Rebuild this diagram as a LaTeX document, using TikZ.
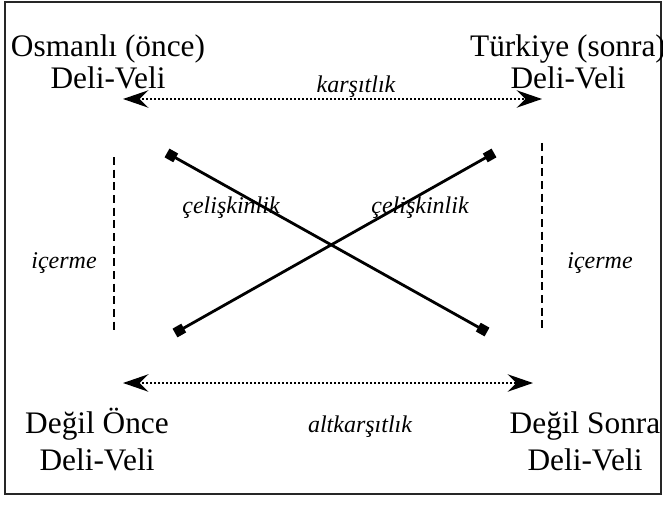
\documentclass[tikz,border=0pt]{standalone}
\usepackage{fontspec}
\setmainfont{Liberation Serif}
\usepackage{tikz}
\usetikzlibrary{positioning, arrows.meta}

\begin{document}
\begin{tikzpicture}[x=0.75pt, y=-0.75pt,
    kose/.style={align=center, inner sep=0pt, anchor=base},
    etiket/.style={inner sep=0pt, anchor=base, font=\fontsize{18}{20}\selectfont\itshape},
    karsi/.style={line width=2pt, dash pattern=on 1.5pt off 1.5pt,
        {Stealth[length=19pt,width=13pt,inset=6.5pt]}-{Stealth[length=19pt,width=13pt,inset=6.5pt]}},
    celiski/.style={line width=2.1pt, {Square[length=7.5pt,width=7.5pt]}-{Square[length=7.5pt,width=7.5pt]}},
    icerme/.style={line width=1.4pt, dash pattern=on 6pt off 3.5pt}]
        \useasboundingbox (0,0) rectangle (663,506);
        % Frame
        \draw[line width=1.4pt, black!85] (5,2) rectangle (661,494);

        % Corner texts
        \node[kose, font=\fontsize{23.5}{24}\selectfont] (osmanli) at (108,89) {Osmanlı (önce)\\Deli-Veli};
        \node[kose, font=\fontsize{23.5}{24}\selectfont] (turkiye) at (568,89) {Türkiye (sonra)\\Deli-Veli};
        \node[kose, font=\fontsize{23.5}{27.75}\selectfont] (degilonce) at (97,470) {Değil Önce\\Deli-Veli};
        \node[kose, font=\fontsize{23.5}{27.75}\selectfont] (degilsonra) at (585,470) {Değil Sonra\\Deli-Veli};

        % Arrow end points
        \coordinate (kl) at (123,99);
        \coordinate (kr) at (542,99);
        \coordinate (al) at (123,383);
        \coordinate (ar) at (533,383);

        % Contrariety (top) and subcontrariety (bottom)
        \draw[karsi] (kl) -- (kr);
        \node[etiket] (karsitlik) at (356,93) {karşıtlık};
        \draw[karsi] (al) -- (ar);
        \node[etiket] (altkarsitlik) at (360,432) {altkarşıtlık};

        % Contradiction diagonals
        \coordinate (sol1) at (167,153);
        \coordinate (sag2) at (487,332);
        \coordinate (sol2) at (175,333);
        \coordinate (sag1) at (494,153);
        \draw[celiski] (sol1) -- (sag2);
        \draw[celiski] (sol2) -- (sag1);
        \node[etiket] (celiskisol) at (231,213) {çelişkinlik};
        \node[etiket] (celiskisag) at (420,213) {çelişkinlik};

        % Implication (dashed sides)
        \coordinate (ust1) at (114,157);
        \coordinate (alt1) at (114,332);
        \coordinate (ust2) at (542,143);
        \coordinate (alt2) at (542,332);
        \draw[icerme] (ust1) -- (alt1);
        \draw[icerme] (ust2) -- (alt2);
        \node[etiket] (icermesol) at (64,268) {içerme};
        \node[etiket] (icermesag) at (600,268) {içerme};
    \end{tikzpicture}
\end{document}
